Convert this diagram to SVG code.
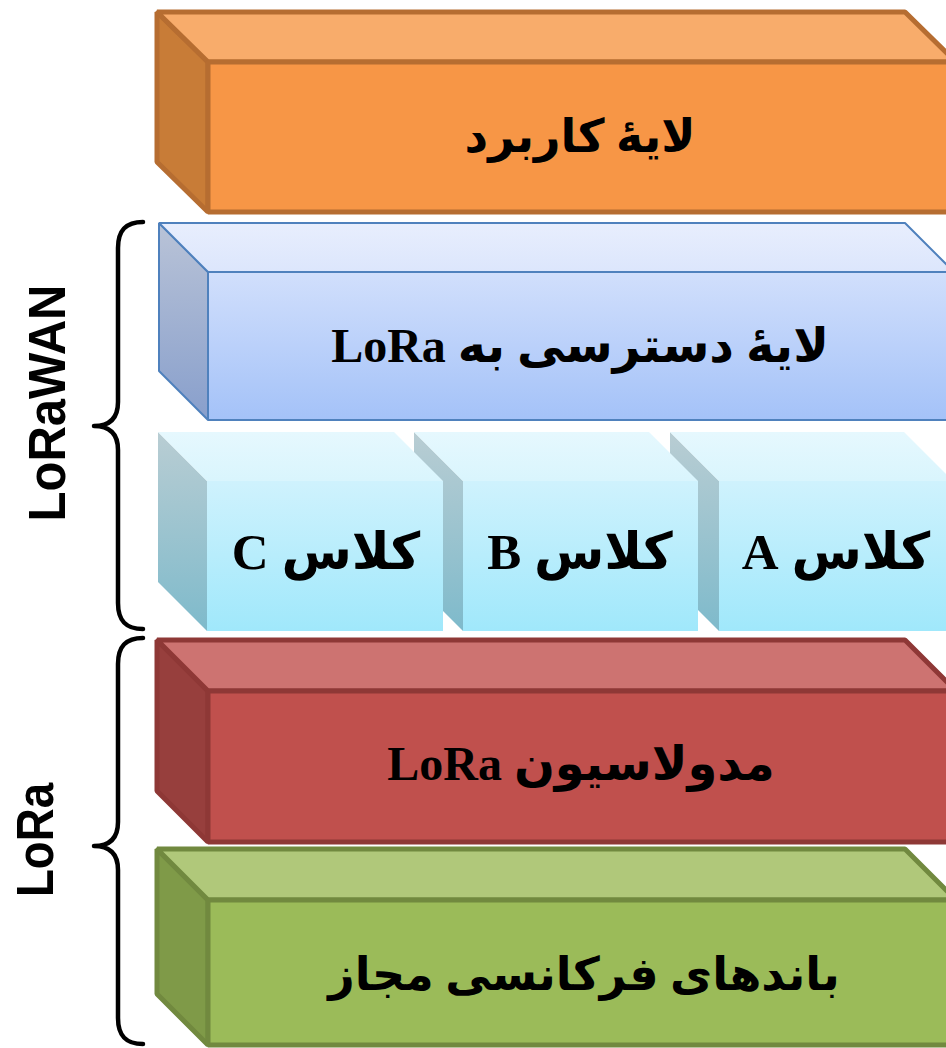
<svg xmlns="http://www.w3.org/2000/svg" width="946" height="1048" viewBox="0 0 946 1048">
  <defs>
    <!-- blue access-layer block -->
    <linearGradient id="blueFront" x1="0" y1="272" x2="0" y2="420" gradientUnits="userSpaceOnUse">
      <stop offset="0" stop-color="#D1DFFC"/>
      <stop offset="1" stop-color="#A4C2F8"/>
    </linearGradient>
    <linearGradient id="blueTop" x1="0" y1="223" x2="0" y2="272" gradientUnits="userSpaceOnUse">
      <stop offset="0" stop-color="#E8EEFD"/>
      <stop offset="1" stop-color="#DCE6FC"/>
    </linearGradient>
    <linearGradient id="blueSide" x1="0" y1="223" x2="0" y2="420" gradientUnits="userSpaceOnUse">
      <stop offset="0" stop-color="#B9C3D7"/>
      <stop offset="1" stop-color="#889FCC"/>
    </linearGradient>
    <!-- cyan class blocks -->
    <linearGradient id="cyanFront" x1="0" y1="481" x2="0" y2="631" gradientUnits="userSpaceOnUse">
      <stop offset="0" stop-color="#CFF2FD"/>
      <stop offset="1" stop-color="#A0E8FB"/>
    </linearGradient>
    <linearGradient id="cyanTop" x1="0" y1="432" x2="0" y2="481" gradientUnits="userSpaceOnUse">
      <stop offset="0" stop-color="#E6F8FE"/>
      <stop offset="1" stop-color="#D9F5FD"/>
    </linearGradient>
    <linearGradient id="cyanSide" x1="0" y1="432" x2="0" y2="631" gradientUnits="userSpaceOnUse">
      <stop offset="0" stop-color="#B9CDD3"/>
      <stop offset="1" stop-color="#7EBACB"/>
    </linearGradient>
    <style>
      .orange { stroke: #B66D31; stroke-width: 5; stroke-linejoin: bevel; }
      .red { stroke: #8E3836; stroke-width: 5; stroke-linejoin: bevel; }
      .green { stroke: #71893F; stroke-width: 5; stroke-linejoin: bevel; }
      .blue { stroke: #4F81BD; stroke-width: 2; stroke-linejoin: bevel; }
      .label { font-family: "Liberation Serif", "DejaVu Sans", serif; font-weight: bold; fill: #000; text-anchor: middle; }
      .side-label { font-family: "Liberation Sans", "DejaVu Sans", sans-serif; font-weight: bold; fill: #000; text-anchor: middle; }
      .brace { fill: none; stroke: #000; stroke-width: 4.5; stroke-linecap: round; stroke-linejoin: round; }
    </style>
  </defs>

  <!-- application layer -->
  <g id="app-layer">
    <polygon class="orange" points="157,12 208,62 208,212 157,162" fill="#C87C37"/>
    <polygon class="orange" points="157,12 905,12 956,62 208,62" fill="#F8AC6B"/>
    <rect class="orange" x="208" y="62" width="760" height="150" fill="#F79646"/>
    <text class="label" x="580" y="152" font-size="46" direction="rtl">لایهٔ کاربرد</text>
  </g>

  <!-- LoRa access layer -->
  <g id="access-layer">
    <polygon class="blue" points="159,223 208,272 208,420 159,371" fill="url(#blueSide)"/>
    <polygon class="blue" points="159,223 905,223 954,272 208,272" fill="url(#blueTop)"/>
    <rect class="blue" x="208" y="272" width="760" height="148" fill="url(#blueFront)"/>
    <text class="label" x="580" y="362" font-size="48" direction="rtl">لایهٔ دسترسی به LoRa</text>
  </g>

  <!-- device classes -->
  <g id="class-a">
    <polygon points="670,432 719,481 719,631 670,582" fill="url(#cyanSide)"/>
    <polygon points="670,432 904,432 953,481 719,481" fill="url(#cyanTop)"/>
    <rect x="719" y="481" width="240" height="150" fill="url(#cyanFront)"/>
    <text class="label" x="836" y="569" font-size="51" direction="rtl">کلاس A</text>
  </g>
  <g id="class-b">
    <polygon points="414,432 463,481 463,631 414,582" fill="url(#cyanSide)"/>
    <polygon points="414,432 649,432 698,481 463,481" fill="url(#cyanTop)"/>
    <rect x="463" y="481" width="235" height="150" fill="url(#cyanFront)"/>
    <text class="label" x="580" y="569" font-size="51" direction="rtl">کلاس B</text>
  </g>
  <g id="class-c">
    <polygon points="158,432 207,481 207,631 158,582" fill="url(#cyanSide)"/>
    <polygon points="158,432 394,432 443,481 207,481" fill="url(#cyanTop)"/>
    <rect x="207" y="481" width="236" height="150" fill="url(#cyanFront)"/>
    <text class="label" x="326" y="569" font-size="51" direction="rtl">کلاس C</text>
  </g>

  <!-- LoRa modulation -->
  <g id="modulation">
    <polygon class="red" points="157,640 208,691 208,842 157,791" fill="#973F3D"/>
    <polygon class="red" points="157,640 905,640 956,691 208,691" fill="#CD7371"/>
    <rect class="red" x="208" y="691" width="760" height="151" fill="#C0504D"/>
    <text class="label" x="581" y="780" font-size="48" direction="rtl">مدولاسیون LoRa</text>
  </g>

  <!-- allowed frequency bands -->
  <g id="bands">
    <polygon class="green" points="157,849 208,900 208,1045 157,994" fill="#7F9A48"/>
    <polygon class="green" points="157,849 905,849 956,900 208,900" fill="#B0C87A"/>
    <rect class="green" x="208" y="900" width="760" height="145" fill="#9BBB59"/>
    <text class="label" x="584" y="990" font-size="46" direction="rtl">باندهای فرکانسی مجاز</text>
  </g>

  <!-- grouping braces -->
  <g id="connectors">
    <path class="brace" d="M143,222 C126,222 118,230 118,248 L118,402 C118,418 110,426 94,426 C110,426 118,434 118,450 L118,603 C118,621 126,629 143,629"/>
    <path class="brace" d="M143,638 C126,638 118,646 118,664 L118,822 C118,838 110,846 94,846 C110,846 118,854 118,870 L118,1018 C118,1036 126,1044 143,1044"/>
  </g>

  <g id="label-lorawan">
    <text class="side-label" transform="translate(65,403) rotate(-90)" font-size="51" textLength="237" lengthAdjust="spacingAndGlyphs">LoRaWAN</text>
  </g>
  <g id="label-lora">
    <text class="side-label" transform="translate(53,840) rotate(-90)" font-size="52" textLength="114" lengthAdjust="spacingAndGlyphs">LoRa</text>
  </g>
</svg>
